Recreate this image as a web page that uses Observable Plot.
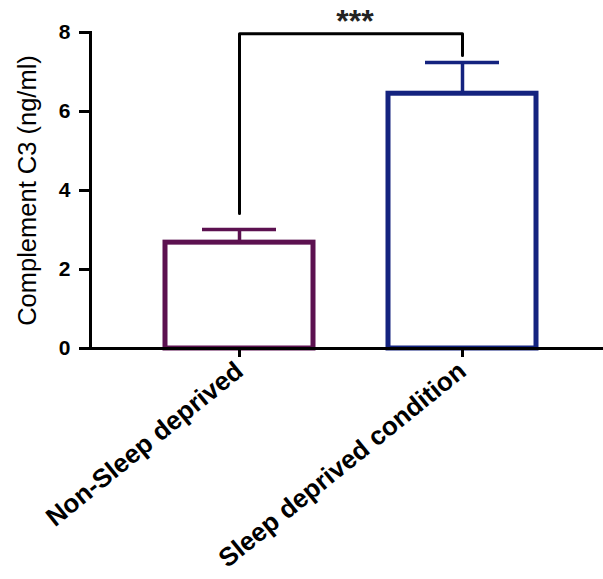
<!DOCTYPE html>
<html><head><meta charset="utf-8">
<script src="https://cdn.jsdelivr.net/npm/d3@7"></script>
<script src="https://cdn.jsdelivr.net/npm/@observablehq/plot@0.6"></script>
<style>
body{margin:0;background:#fff;color:#000}
#chart svg{display:block}
#chart g[aria-label="y-axis tick label"] text{font-weight:bold}
</style>
</head><body><div id="chart"></div>
<script>
const groups = ["Non-Sleep deprived", "Sleep deprived condition"];
const means = [2.68, 6.45];
const errors = [0.33, 0.79];
const colors = ["#5c1150", "#14237f"];
const yTicks = [0, 2, 4, 6, 8];
const bracketStart = 3.42;
const bracketTop = 7.97;
const bracketEnd = 7.42;
const sigLabel = "***";
const yLabel = "Complement C3 (ng/ml)";

const data = groups.map((g, i) => ({group: g, mean: means[i], hi: means[i] + errors[i], color: colors[i]}));
const bracket = [
  {group: groups[0], y: bracketStart},
  {group: groups[0], y: bracketTop},
  {group: groups[1], y: bracketTop},
  {group: groups[1], y: bracketEnd}
];

const chart = Plot.plot({
  width: 603,
  height: 579,
  marginLeft: 90,
  marginRight: 0,
  marginTop: 32,
  marginBottom: 231,
  style: {fontFamily: "'Liberation Sans', Arial, sans-serif", background: "#fff", color: "#000"},
  x: {type: "band", domain: groups, paddingInner: 0.336, paddingOuter: 0.318, align: 0.53},
  y: {domain: [0, 8]},
  marks: [
    Plot.barY(data, {x: "group", y: "mean", fill: "#fff", stroke: "color", strokeWidth: 5}),
    Plot.ruleX(data, {x: "group", y1: "mean", y2: "hi", stroke: "color", strokeWidth: 3.5}),
    Plot.tickY(data, {x: "group", y: "hi", stroke: "color", strokeWidth: 3.5, insetLeft: 37, insetRight: 37}),
    Plot.line(bracket, {x: "group", y: "y", stroke: "#000", strokeWidth: 3, curve: "linear"}),
    Plot.text([sigLabel], {frameAnchor: "top", dx: 8, dy: -23, fontSize: 32, fontWeight: "bold", fill: "#222"}),
    Plot.frame({anchor: "left", strokeWidth: 3}),
    Plot.ruleY([0], {strokeWidth: 3}),
    Plot.axisY({ticks: yTicks, tickSize: 11, tickPadding: 9, fontSize: 21, fontWeight: "bold", strokeWidth: 3, label: null}),
    Plot.axisX({tickRotate: -39, fontSize: 26, fontWeight: "bold", tickSize: 9, tickPadding: 10, strokeWidth: 3, label: null}),
    Plot.text([yLabel], {frameAnchor: "left", dx: -63, rotate: -90, textAnchor: "middle", fontSize: 25.5})
  ]
});
document.getElementById("chart").appendChild(chart);
</script>
</body></html>
